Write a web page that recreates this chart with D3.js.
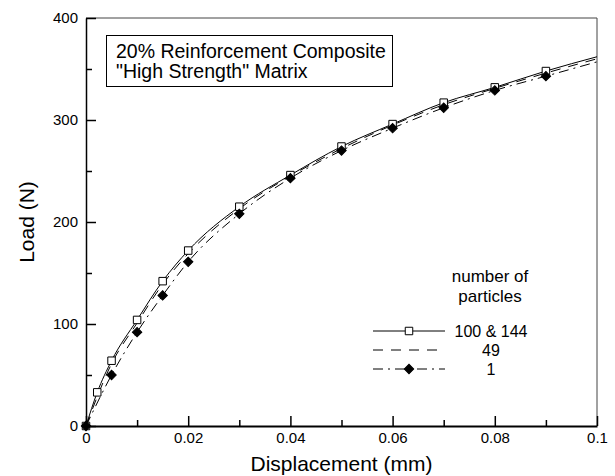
<!DOCTYPE html>
<html>
<head>
<meta charset="utf-8">
<script src="https://cdn.jsdelivr.net/npm/d3@7"></script>
<style>
  body { margin: 0; background: #fff; }
  svg { display: block; font-family: "Liberation Sans", Arial, Helvetica, sans-serif; }
</style>
</head>
<body>
<script>
let width = 615;
let height = 476;

// data
let xSquares = [0, 0.0022, 0.005, 0.01, 0.015, 0.02, 0.03, 0.04, 0.05, 0.06, 0.07, 0.08, 0.09, 0.1];
let load100 = [0, 33, 64, 104, 142, 172, 215, 246, 274, 296, 317, 332, 348, 362];
let xOther = [0, 0.005, 0.01, 0.015, 0.02, 0.03, 0.04, 0.05, 0.06, 0.07, 0.08, 0.09, 0.1];
let load49 = [0, 61, 101, 139, 169, 213, 245, 272, 295, 315, 331, 346, 360];
let load1 = [0, 50, 92, 128, 161, 208, 243, 270, 292, 312, 329, 343, 357];

let seriesNames = ["100 & 144", "49", "1"];
let xTicks = [0, 0.02, 0.04, 0.06, 0.08, 0.1];
let xMinorTicks = [0.01, 0.03, 0.05, 0.07, 0.09];
let yTicks = [0, 100, 200, 300, 400];
let yMinorTicks = [50, 150, 250, 350];
let boxLines = ["20% Reinforcement Composite", "\"High Strength\" Matrix"];
let legendTitle = ["number of", "particles"];

let plotLeft = 86, plotRight = 597, plotTop = 18, plotBottom = 426;

let svg = d3.select("body").append("svg")
  .attr("width", width)
  .attr("height", height);

let x = d3.scaleLinear().domain([0, 0.1]).range([plotLeft, plotRight]);
let y = d3.scaleLinear().domain([0, 400]).range([plotBottom, plotTop]);

// frame (top and right)
svg.append("path")
  .attr("d", "M" + plotLeft + "," + plotTop + "H" + plotRight + "V" + plotBottom)
  .attr("fill", "none")
  .attr("stroke", "#444")
  .attr("stroke-width", 1);

// minor ticks
svg.append("g")
  .attr("transform", "translate(" + plotLeft + ",0)")
  .call(d3.axisLeft(y).tickValues(yMinorTicks).tickSize(-6).tickFormat(""))
  .call(g => g.select(".domain").remove());
svg.append("g")
  .attr("transform", "translate(0," + plotBottom + ")")
  .call(d3.axisBottom(x).tickValues(xMinorTicks).tickSize(-6).tickFormat(""))
  .call(g => g.select(".domain").remove());

let yAxis = svg.append("g")
  .attr("transform", "translate(" + plotLeft + ",0)")
  .call(d3.axisLeft(y).tickValues(yTicks).tickSizeInner(-10).tickSizeOuter(0).tickPadding(8));
yAxis.select(".domain").attr("stroke-width", 1.5);

let xAxis = svg.append("g")
  .attr("transform", "translate(0," + plotBottom + ")")
  .call(d3.axisBottom(x).tickValues(xTicks).tickSizeInner(-10).tickSizeOuter(0).tickPadding(6)
    .tickFormat(d => String(d)));
xAxis.select(".domain").attr("stroke-width", 2);

svg.selectAll(".tick line").attr("stroke-width", 1.5);
svg.selectAll(".tick text")
  .attr("font-size", 15)
  .attr("font-family", "Liberation Sans, Arial, sans-serif")
  .attr("fill", "#000");

// axis titles
svg.append("text")
  .attr("x", (plotLeft + plotRight) / 2)
  .attr("y", 471)
  .attr("text-anchor", "middle")
  .attr("font-size", 21)
  .text("Displacement (mm)");
svg.append("text")
  .attr("transform", "translate(34," + (plotTop + plotBottom) / 2 + ") rotate(-90)")
  .attr("text-anchor", "middle")
  .attr("font-size", 21)
  .text("Load (N)");

// curves
let line = d3.line()
  .x(d => x(d[0]))
  .y(d => y(d[1]))
  .curve(d3.curveMonotoneX);

let series = [
  { name: seriesNames[0], pts: d3.zip(xSquares, load100), dash: null, marker: "square" },
  { name: seriesNames[1], pts: d3.zip(xOther, load49), dash: "10,8", marker: null },
  { name: seriesNames[2], pts: d3.zip(xOther, load1), dash: "10,5,2,5", marker: "diamond" }
];

svg.selectAll(".curve")
  .data(series)
  .enter()
  .append("path")
  .attr("class", "curve")
  .attr("d", d => line(d.pts))
  .attr("fill", "none")
  .attr("stroke", "#000")
  .attr("stroke-width", 1)
  .attr("stroke-dasharray", d => d.dash);

let squareSym = d3.symbol().type(d3.symbolSquare).size(56);
let diamondSym = d3.symbol().type(d3.symbolSquare).size(44);

function markerPath(m) {
  return m == "square" ? squareSym() : diamondSym();
}
function markerRot(m) {
  return m == "square" ? "" : " rotate(45)";
}

function drawMarkers(s) {
  let pts = s.pts.filter(p => p[0] < 0.1);
  let g = svg.append("g");
  g.selectAll("path")
    .data(pts)
    .enter()
    .append("path")
    .attr("d", markerPath(s.marker))
    .attr("transform", p => "translate(" + x(p[0]) + "," + y(p[1]) + ")" + markerRot(s.marker))
    .attr("fill", s.marker == "square" ? "#fff" : "#000")
    .attr("stroke", "#000")
    .attr("stroke-width", 1);
}
drawMarkers(series[0]);
drawMarkers(series[2]);

// text box
svg.append("rect")
  .attr("x", 106.5)
  .attr("y", 35.5)
  .attr("width", 286)
  .attr("height", 51)
  .attr("fill", "#fff")
  .attr("stroke", "#000")
  .attr("stroke-width", 1);
svg.selectAll(".boxline")
  .data(boxLines)
  .enter()
  .append("text")
  .attr("x", 116)
  .attr("y", (d, i) => 58 + i * 20)
  .attr("font-size", 19.5)
  .text(d => d);

// legend
let legX = 490;
svg.selectAll(".legtitle")
  .data(legendTitle)
  .enter()
  .append("text")
  .attr("x", legX)
  .attr("y", (d, i) => 282 + i * 19.5)
  .attr("text-anchor", "middle")
  .attr("font-size", 17)
  .text(d => d);

let rowY = [331, 350, 369];
let leg = svg.selectAll(".leg")
  .data(series)
  .enter()
  .append("g")
  .attr("transform", (d, i) => "translate(0," + rowY[i] + ")");
leg.append("line")
  .attr("x1", 373)
  .attr("x2", 445)
  .attr("stroke", "#000")
  .attr("stroke-width", 1)
  .attr("stroke-dasharray", d => d.dash);
leg.filter(d => d.marker)
  .append("path")
  .attr("d", d => markerPath(d.marker))
  .attr("transform", d => "translate(409,0)" + markerRot(d.marker))
  .attr("fill", d => d.marker == "square" ? "#fff" : "#000")
  .attr("stroke", "#000");
leg.append("text")
  .attr("x", 491)
  .attr("y", 6)
  .attr("text-anchor", "middle")
  .attr("font-size", 16)
  .text(d => d.name);
</script>
</body>
</html>
